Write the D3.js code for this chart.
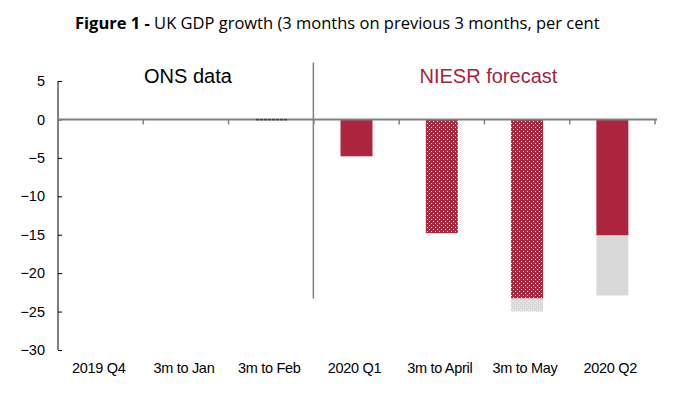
<!DOCTYPE html>
<html>
<head>
<meta charset="utf-8">
<script src="https://cdn.jsdelivr.net/npm/d3@7"></script>
<style>
  body { margin: 0; background: #fff; }
  svg { display: block; }
</style>
</head>
<body>
<svg id="chart"></svg>
<script>
// chart data
var categories = ["2019 Q4", "3m to Jan", "3m to Feb", "2020 Q1", "3m to April", "3m to May", "2020 Q2"];
var solidRed   = [0, 0, 0, -4.8, 0, 0, -15.1];
var dottedRed  = [0, 0, 0, 0, -14.8, -23.3, 0];
var dottedGrey = [0, 0, 0, 0, 0, -1.7, 0];
var solidGrey  = [0, 0, 0, 0, 0, 0, -7.8];
var nearZero   = [0, 0, -0.1, 0, 0, 0, 0];
var yTicks = [5, 0, -5, -10, -15, -20, -25, -30];
var forecastStart = "2020 Q1";

var width = 696, height = 399;
var margin = { top: 81, right: 41, bottom: 49, left: 58 };

var svg = d3.select("#chart")
    .attr("width", width)
    .attr("height", height);

var red = "#ac243e", grey = "#d9d9d9";

// patterns for the dotted bars
var defs = svg.append("defs");
function dots(id, bg, dot) {
    var p = defs.append("pattern")
        .attr("id", id)
        .attr("patternUnits", "userSpaceOnUse")
        .attr("width", 4).attr("height", 4);
    p.append("rect").attr("width", 4).attr("height", 4).attr("fill", bg);
    p.append("rect").attr("x", 1).attr("y", 1).attr("width", 1).attr("height", 1).attr("fill", dot);
    p.append("rect").attr("x", 3).attr("y", 3).attr("width", 1).attr("height", 1).attr("fill", dot);
}
dots("redDots", red, "#ffffff");
dots("greyDots", grey, "#f4f4f4");
var dash = defs.append("pattern")
    .attr("id", "darkDash")
    .attr("patternUnits", "userSpaceOnUse")
    .attr("width", 4).attr("height", 4);
dash.append("rect").attr("width", 3).attr("height", 4).attr("fill", "#404040");

var x = d3.scaleBand()
    .domain(categories)
    .range([margin.left, width - margin.right])
    .padding(0);

var y = d3.scaleLinear()
    .domain([-30, 5])
    .range([height - margin.bottom, margin.top]);

var barW = x.bandwidth() * 0.375;
function barX(d, i) { return x(categories[i]) + (x.bandwidth() - barW) / 2; }

// stack segments in order, downward from zero
function segments(series) {
    var out = [];
    categories.forEach(function (c, i) {
        var base = 0;
        series.forEach(function (s) {
            var v = s.values[i];
            if (v !== 0) out.push({ i: i, y0: base, y1: base + v, fill: s.fill });
            base += v;
        });
    });
    return out;
}

var segs = segments([
    { values: solidRed, fill: red },
    { values: dottedRed, fill: "url(#redDots)" },
    { values: dottedGrey, fill: "url(#greyDots)" },
    { values: solidGrey, fill: grey }
]);

svg.append("g").selectAll("rect")
    .data(segs)
    .enter().append("rect")
    .attr("x", function (d) { return barX(d, d.i); })
    .attr("width", barW)
    .attr("y", function (d) { return y(Math.max(d.y0, d.y1)); })
    .attr("height", function (d) { return Math.abs(y(d.y0) - y(d.y1)); })
    .attr("fill", function (d) { return d.fill; });

// y axis
var yAxis = svg.append("g")
    .attr("transform", "translate(" + margin.left + ",0)")
    .call(d3.axisLeft(y).tickValues(yTicks).tickSize(-4).tickPadding(13).tickFormat(d3.format("d")));
yAxis.select(".domain").attr("stroke", "#000").attr("d", "M0," + y(5) + "V" + y(-30));
yAxis.selectAll(".tick line").attr("stroke", "#000");
yAxis.selectAll("text")
    .attr("fill", "#000")
    .style("font-family", "'Liberation Sans', Arial, sans-serif")
    .style("font-size", "14.5px");

// zero line with category ticks
var xAxis = svg.append("g")
    .attr("transform", "translate(0," + y(0) + ")");
xAxis.append("line")
    .attr("x1", margin.left).attr("x2", width - margin.right + 2)
    .attr("stroke", "#808080").attr("stroke-width", 2);
xAxis.selectAll("line.tk")
    .data(categories.slice(1).concat([null]))
    .enter().append("line")
    .attr("class", "tk")
    .attr("x1", function (d) { return d ? x(d) : x(categories[categories.length - 1]) + x.bandwidth(); })
    .attr("x2", function (d) { return d ? x(d) : x(categories[categories.length - 1]) + x.bandwidth(); })
    .attr("y1", 0).attr("y2", 5)
    .attr("stroke", "#808080").attr("stroke-width", 1.5);

// near-zero value drawn as dashes on the zero line
svg.append("g").selectAll("rect")
    .data(nearZero.map(function (v, i) { return { v: v, i: i }; }).filter(function (d) { return d.v !== 0; }))
    .enter().append("rect")
    .attr("x", function (d) { return barX(d, d.i); })
    .attr("width", barW)
    .attr("y", y(0) - 0.5)
    .attr("height", function (d) { return Math.max(1.5, y(d.v) - y(0)); })
    .attr("fill", "url(#darkDash)");

// category labels
svg.append("g").selectAll("text")
    .data(categories)
    .enter().append("text")
    .attr("x", function (d) { return x(d) + x.bandwidth() / 2 - 2; })
    .attr("y", 373)
    .attr("text-anchor", "middle")
    .style("font-family", "'Liberation Sans', Arial, sans-serif")
    .style("font-size", "14.5px")
    .style("letter-spacing", "-0.3px")
    .text(function (d) { return d; });

// divider between ONS data and forecast
svg.append("line")
    .attr("x1", x(forecastStart) - 0.5).attr("x2", x(forecastStart) - 0.5)
    .attr("y1", y(7.4)).attr("y2", y(-23.3))
    .attr("stroke", "#808080").attr("stroke-width", 1.5);

svg.append("text")
    .attr("x", (margin.left + x(forecastStart)) / 2 + 2)
    .attr("y", 83)
    .attr("text-anchor", "middle")
    .style("font-family", "'Liberation Sans', Arial, sans-serif")
    .style("font-size", "20px")
    .text("ONS data");

svg.append("text")
    .attr("x", (x(forecastStart) + width - margin.right) / 2 + 4)
    .attr("y", 83)
    .attr("text-anchor", "middle")
    .attr("fill", "#a61f3c")
    .style("font-family", "'Liberation Sans', Arial, sans-serif")
    .style("font-size", "20px")
    .text("NIESR forecast");

// title
var title = svg.append("text")
    .attr("x", 75)
    .attr("y", 29)
    .style("font-family", "'Open Sans', 'Noto Sans', sans-serif")
    .style("font-size", "16.5px");
title.append("tspan").style("font-weight", "bold").text("Figure 1 - ");
title.append("tspan").text("UK GDP growth (3 months on previous 3 months, per cent");
</script>
</body>
</html>
